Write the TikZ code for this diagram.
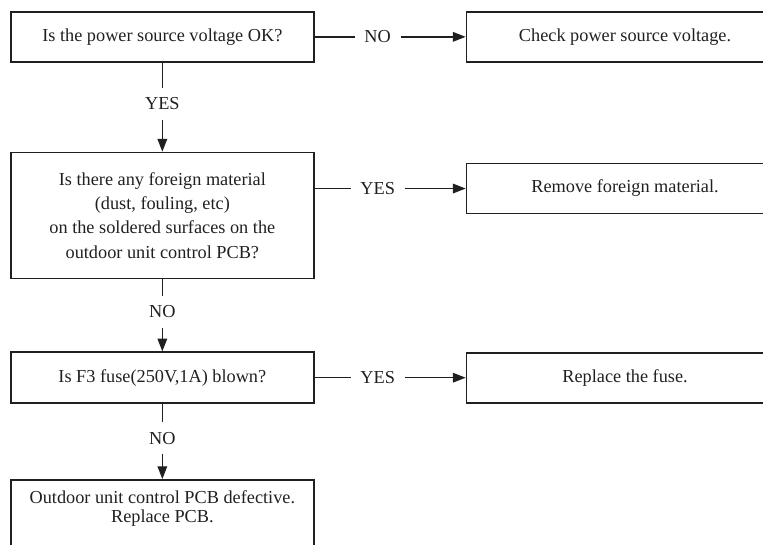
\documentclass[tikz,border=0pt]{standalone}
\usepackage{fontspec}
\setmainfont{Liberation Serif}
\usepackage{xcolor}
\usetikzlibrary{arrows.meta,positioning}

\definecolor{ink}{HTML}{231F20}

\begin{document}
\begin{tikzpicture}[
    node distance=2.225cm and 3.775cm,
    baseblock/.style={draw=ink, line width=1.2pt, text=ink, align=center,
                      font=\fontsize{13}{17.3}\selectfont, inner sep=0pt},
    askblock/.style={baseblock, minimum width=7.575cm, minimum height=1.25cm},
    fixblock/.style={baseblock, minimum width=7.925cm, minimum height=1.25cm},
    line/.style={draw=ink, line width=1.0pt},
    arrow/.style={line, -{Triangle[length=0.32cm, width=0.24cm]}},
    lbl/.style={font=\fontsize{13}{15}\selectfont, text=ink, inner sep=0.24cm},
  ]
    \useasboundingbox (0,0) rectangle (19.075,-13.625);
    \clip (0,0) rectangle (19.075,-13.625);

    % Checks down the left
    \node[askblock, anchor=north west] (power) at (0.25,-0.275)
          {Is the power source voltage OK?};
    \node[askblock, below=2.225cm of power, minimum height=3.15cm] (dirt)
          {Is there any foreign material\\(dust, fouling, etc)\\
           on the soldered surfaces on the\\outdoor unit control PCB?};
    \node[askblock, below=1.8cm of dirt, minimum height=1.275cm] (fuse)
          {Is F3 fuse(250V,1A) blown?};
    \node[askblock, below=1.875cm of fuse, minimum height=3cm] (pcb) {};
    \node[below=0.29cm of pcb.north, inner sep=0pt, align=center, text=ink,
          font=\fontsize{13}{13}\selectfont] (pcbtext)
          {Outdoor unit control PCB defective.\\Replace PCB.};

    % Remedies on the right
    \node[fixblock, right=3.775cm of power] (checkv)
          {Check power source voltage.};
    \node[fixblock, right=3.775cm of dirt, yshift=0.675cm] (clean)
          {Remove foreign material.};
    \node[fixblock, right=3.775cm of fuse] (newfuse)
          {Replace the fuse.};

    % Answer labels
    \node[lbl, below=1.025cm of power.south, anchor=center] (yes1) {YES};
    \node[lbl, below=0.81cm of dirt.south, anchor=center] (no1) {NO};
    \node[lbl, below=0.86cm of fuse.south, anchor=center] (no2) {NO};
    \node[lbl, left=2.2cm of checkv.west, anchor=center] (no0) {NO};
    \node[lbl, left=2.2cm of clean.west, anchor=center] (yes2) {YES};
    \node[lbl, left=2.2cm of newfuse.west, anchor=center] (yes3) {YES};

    % Flow down
    \draw[line] (power) -- (yes1);
    \draw[arrow] (yes1) -- (dirt);
    \draw[line] (dirt) -- (no1);
    \draw[arrow] (no1) -- (fuse);
    \draw[line] (fuse) -- (no2);
    \draw[arrow] (no2) -- (pcb);

    % Flow across
    \draw[line] (power) -- (no0);
    \draw[arrow] (no0) -- (checkv);
    \draw[line] (dirt.east |- yes2) -- (yes2);
    \draw[arrow] (yes2) -- (clean);
    \draw[line] (fuse) -- (yes3);
    \draw[arrow] (yes3) -- (newfuse);
  \end{tikzpicture}
\end{document}
